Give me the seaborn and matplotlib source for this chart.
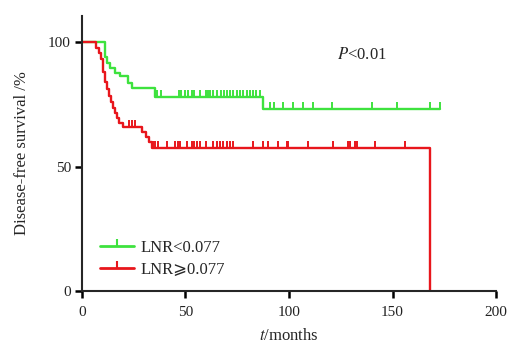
import numpy as np
import matplotlib
matplotlib.use("Agg")
import matplotlib.pyplot as plt
from matplotlib.lines import Line2D
import seaborn as sns

# step points (time in months, disease-free survival %)
green_times = [0, 11, 12, 13.5, 16, 18.5, 22, 24, 35.5, 87.5]
green_surv = [100, 94, 91.7, 89.7, 87.7, 86.4, 83.7, 81.7, 78, 73]
green_end = 173
green_censor = [36, 38, 47, 48, 50, 51, 53, 54, 57, 60, 61, 62, 63.5, 65, 67, 68.5,
                70, 71.5, 73, 75, 76.5, 78, 79.5, 81, 82.5, 84, 86, 91, 92.6, 97, 102,
                107, 111.6, 120.8, 140, 152, 168, 173]

red_times = [0, 7, 8, 9, 10, 11, 12, 13, 14, 15, 16, 17, 18, 20, 29, 31, 32.5, 34, 168]
red_surv = [100, 97.7, 95.5, 93, 88, 84, 81, 78.5, 76, 73.5, 71.5, 69.5, 67.5, 65.7,
            63.7, 62, 60, 57.3, 0]
red_end = 168
red_censor = [22.9, 24, 25.5, 34.5, 35.5, 36.5, 41, 45, 46.5, 47.5, 50.6, 53, 54, 55.5,
              57, 60, 63.4, 65, 66.5, 68, 70, 71.5, 73, 82.8, 87.6, 90, 94.8, 98.9, 99.7,
              109.3, 121.4, 128.7, 129.5, 131.9, 132.7, 141.5, 156]

labels = ["LNR<0.077", "LNR\u2a7e0.077"]
green = "#3ee23e"
red = "#e8161c"

sns.set_style("ticks")
plt.rcParams["font.family"] = ["Liberation Serif", "DejaVu Serif", "DejaVu Sans"]
plt.rcParams["mathtext.fontset"] = "stix"


def step_value(times, surv, t):
    idx = np.searchsorted(times, t, side="right") - 1
    return np.array(surv)[idx]


fig = plt.figure(figsize=(5.14, 3.46), dpi=100)
ax = fig.add_axes([0.1595, 0.159, 0.8055, 0.795])

for times, surv, end, cens, col in [
    (green_times, green_surv, green_end, green_censor, green),
    (red_times, red_surv, red_end, red_censor, red),
]:
    xs = list(times) + [end]
    ys = list(surv) + [surv[-1]]
    sns.lineplot(x=xs, y=ys, ax=ax, color=col, linewidth=1.7,
                 drawstyle="steps-post", estimator=None, sort=False)
    cy = step_value(times, surv, np.array(cens) - 1e-9)
    sns.scatterplot(x=cens, y=cy, ax=ax, marker=2, color=col, s=24,
                    linewidth=1.4, zorder=3)

ax.set_xlim(0, 200)
ax.set_ylim(0, 110.5)
ax.set_xticks([0, 50, 100, 150, 200])
ax.set_yticks([0, 50, 100])
sns.despine(ax=ax)
for s in ["left", "bottom"]:
    ax.spines[s].set_linewidth(1.5)
ax.tick_params(axis="both", length=5, width=1.8, labelsize=11, color="black",
               labelcolor="#222222")
ax.tick_params(axis="x", pad=5.5)
ax.tick_params(axis="y", pad=3)
ax.set_xlabel("$t$/months", fontsize=12, labelpad=7)
ax.set_ylabel("Disease-free survival /%", fontsize=12, labelpad=13)

ax.text(135, 95, "$P$<0.01", fontsize=12, ha="center", va="center")

handles = [Line2D([0], [0], color=green, lw=2, marker=2, ms=5, mew=1.5),
           Line2D([0], [0], color=red, lw=2, marker=2, ms=5, mew=1.5)]
ax.legend(handles, labels, loc="lower left", bbox_to_anchor=(0.028, 0.025),
          frameon=False, fontsize=12, handlelength=2.0, handletextpad=0.4,
          labelspacing=0.35, borderaxespad=0)

fig.savefig("out.png", dpi=100)
